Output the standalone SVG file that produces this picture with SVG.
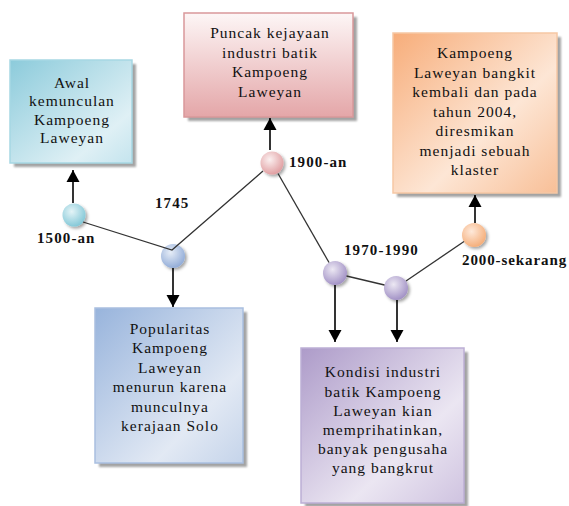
<svg xmlns="http://www.w3.org/2000/svg" width="569" height="506" viewBox="0 0 569 506">
<defs>
<style>
.t{font-family:"Liberation Serif","Times New Roman",serif;font-size:15.5px;letter-spacing:1px;fill:#111;text-anchor:middle}
.lb{font-family:"Liberation Serif","Times New Roman",serif;font-size:15px;font-weight:bold;letter-spacing:1.1px;fill:#111}
.shadow{fill:#858585;opacity:0.75}
.ln{stroke:#333;stroke-width:1.3;fill:none}
.ar{stroke:#000;stroke-width:1.6;fill:none}
</style>
<filter id="blur" x="-20%" y="-20%" width="140%" height="140%"><feGaussianBlur stdDeviation="1"/></filter>
<filter id="cs" x="-50%" y="-50%" width="200%" height="200%"><feDropShadow dx="2" dy="2" stdDeviation="1.5" flood-color="#000" flood-opacity="0.35"/></filter>
<marker id="ah" markerUnits="userSpaceOnUse" markerWidth="14" markerHeight="14" refX="12" refY="7" orient="auto"><path d="M0,0.5 L12,7 L0,13.5 Z" fill="#000"/></marker>
<linearGradient id="gTeal" x1="0" y1="0" x2="1" y2="1"><stop offset="0" stop-color="#8ccbdb"/><stop offset="0.75" stop-color="#dff0f5"/><stop offset="1" stop-color="#c4e4ee"/></linearGradient>
<linearGradient id="gPink" x1="0" y1="0" x2="0" y2="1"><stop offset="0" stop-color="#fdf6f6"/><stop offset="1" stop-color="#e4a6a8"/></linearGradient>
<linearGradient id="gOrange" x1="0" y1="0" x2="1" y2="1"><stop offset="0" stop-color="#f7ad7a"/><stop offset="0.6" stop-color="#fde6d5"/><stop offset="1" stop-color="#f8bf97"/></linearGradient>
<linearGradient id="gBlue" x1="0" y1="0" x2="1" y2="1"><stop offset="0" stop-color="#98b4dc"/><stop offset="0.7" stop-color="#e2e9f4"/><stop offset="1" stop-color="#c5d4ea"/></linearGradient>
<linearGradient id="gPurple" x1="0" y1="0" x2="1" y2="1"><stop offset="0" stop-color="#ad9bc9"/><stop offset="0.65" stop-color="#ebe6f2"/><stop offset="1" stop-color="#cfc3e0"/></linearGradient>
<radialGradient id="cTeal" cx="0.4" cy="0.35" r="0.7"><stop offset="0" stop-color="#e4f4f7"/><stop offset="1" stop-color="#7fc6d6"/></radialGradient>
<radialGradient id="cBlue" cx="0.4" cy="0.35" r="0.7"><stop offset="0" stop-color="#e6edf7"/><stop offset="1" stop-color="#8ea9d6"/></radialGradient>
<radialGradient id="cPink" cx="0.4" cy="0.35" r="0.7"><stop offset="0" stop-color="#fbf0f0"/><stop offset="1" stop-color="#df9a9d"/></radialGradient>
<radialGradient id="cPurple" cx="0.4" cy="0.35" r="0.7"><stop offset="0" stop-color="#ece8f3"/><stop offset="1" stop-color="#9e8dc3"/></radialGradient>
<radialGradient id="cOrange" cx="0.4" cy="0.35" r="0.7"><stop offset="0" stop-color="#fee9da"/><stop offset="1" stop-color="#f4ab75"/></radialGradient>
</defs>
<rect width="569" height="506" fill="#fff"/>

<g id="box-awal">
<rect class="shadow" x="14" y="64" width="122" height="103" filter="url(#blur)"/>
<rect x="10" y="60" width="122" height="103" fill="url(#gTeal)" stroke="#a6d7e3" stroke-width="1.5"/>
<text class="t" x="72" y="88">Awal</text>
<text class="t" x="72" y="106">kemunculan</text>
<text class="t" x="72" y="125">Kampoeng</text>
<text class="t" x="72" y="143">Laweyan</text>
</g>

<g id="box-puncak">
<rect class="shadow" x="188" y="17" width="169" height="104" filter="url(#blur)"/>
<rect x="184" y="13" width="169" height="104" fill="url(#gPink)" stroke="#d9989a" stroke-width="1.5"/>
<text class="t" x="270" y="38">Puncak kejayaan</text>
<text class="t" x="270" y="58">industri batik</text>
<text class="t" x="270" y="77">Kampoeng</text>
<text class="t" x="270" y="97">Laweyan</text>
</g>

<g id="box-bangkit">
<rect class="shadow" x="397" y="37" width="164" height="160" filter="url(#blur)"/>
<rect x="393" y="33" width="164" height="160" fill="url(#gOrange)" stroke="#f6c7a4" stroke-width="1.5"/>
<text class="t" x="475" y="58">Kampoeng</text>
<text class="t" x="475" y="77.5">Laweyan bangkit</text>
<text class="t" x="475" y="97">kembali dan pada</text>
<text class="t" x="475" y="116.5">tahun 2004,</text>
<text class="t" x="475" y="136">diresmikan</text>
<text class="t" x="475" y="155.5">menjadi sebuah</text>
<text class="t" x="475" y="175">klaster</text>
</g>

<g id="box-popularitas">
<rect class="shadow" x="99" y="312" width="148" height="155" filter="url(#blur)"/>
<rect x="95" y="308" width="148" height="155" fill="url(#gBlue)" stroke="#a9bfe0" stroke-width="1.5"/>
<text class="t" x="170" y="334">Popularitas</text>
<text class="t" x="170" y="353">Kampoeng</text>
<text class="t" x="170" y="372.5">Laweyan</text>
<text class="t" x="170" y="392">menurun karena</text>
<text class="t" x="170" y="411.5">munculnya</text>
<text class="t" x="170" y="431">kerajaan Solo</text>
</g>

<g id="box-kondisi">
<rect class="shadow" x="305" y="352" width="163" height="155" filter="url(#blur)"/>
<rect x="301" y="348" width="163" height="155" fill="url(#gPurple)" stroke="#bcaed5" stroke-width="1.5"/>
<text class="t" x="383" y="377">Kondisi industri</text>
<text class="t" x="383" y="396.5">batik Kampoeng</text>
<text class="t" x="383" y="416">Laweyan kian</text>
<text class="t" x="383" y="435">memprihatinkan,</text>
<text class="t" x="383" y="454">banyak pengusaha</text>
<text class="t" x="383" y="473">yang bangkrut</text>
</g>

<g id="node-1500">
<circle cx="74" cy="215" r="11.5" fill="url(#cTeal)" filter="url(#cs)"/>
<text class="lb" x="37" y="243">1500-an</text>
</g>
<g id="node-1745">
<circle cx="173" cy="256" r="12" fill="url(#cBlue)" filter="url(#cs)"/>
<text class="lb" x="155" y="208">1745</text>
</g>
<g id="node-1900">
<circle cx="272" cy="163" r="11.5" fill="url(#cPink)" filter="url(#cs)"/>
<text class="lb" x="289" y="167">1900-an</text>
</g>
<g id="node-1970">
<circle cx="335" cy="273" r="12" fill="url(#cPurple)" filter="url(#cs)"/>
<text class="lb" x="344" y="255">1970-1990</text>
</g>
<g id="node-1990">
<circle cx="396" cy="288" r="12" fill="url(#cPurple)" filter="url(#cs)"/>
</g>
<g id="node-2000">
<circle cx="474" cy="235" r="12" fill="url(#cOrange)" filter="url(#cs)"/>
<text class="lb" x="462" y="265" style="letter-spacing:0.9px">2000-sekarang</text>
</g>

<g id="connectors">
<polyline class="ln" points="83,222 172,250 263,171"/>
<line class="ln" x1="278" y1="173.5" x2="329" y2="262.5"/>
<line class="ln" x1="346.5" y1="276" x2="384.5" y2="285"/>
<line class="ln" x1="406" y1="281" x2="464" y2="241.5"/>
<line class="ar" x1="73" y1="203" x2="73" y2="170" marker-end="url(#ah)"/>
<line class="ar" x1="270" y1="150" x2="270" y2="118" marker-end="url(#ah)"/>
<line class="ar" x1="475" y1="223" x2="475" y2="195" marker-end="url(#ah)"/>
<line class="ar" x1="173" y1="268" x2="173" y2="307" marker-end="url(#ah)"/>
<line class="ar" x1="335" y1="285" x2="335" y2="342" marker-end="url(#ah)"/>
<line class="ar" x1="397" y1="300" x2="397" y2="342" marker-end="url(#ah)"/>
</g>
</svg>
